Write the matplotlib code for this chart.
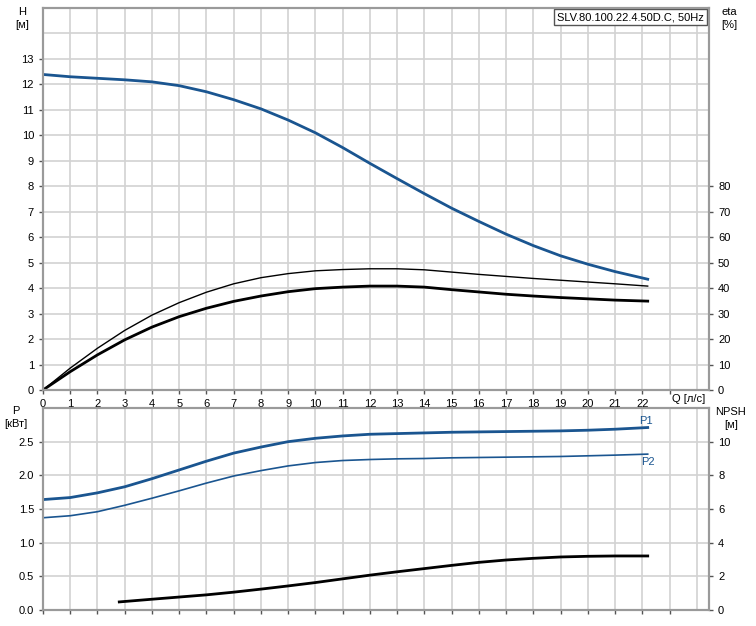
import matplotlib
matplotlib.use("Agg")
import matplotlib.pyplot as plt

plt.rcParams['font.family'] = ['Liberation Sans', 'DejaVu Sans']
plt.rcParams['font.size'] = 8

# ---- data ----
q_h = [0, 1, 2, 3, 4, 5, 6, 7, 8, 9, 10, 11, 12, 13, 14, 15, 16, 17, 18, 19, 20, 21, 22.2]
head = [12.39, 12.30, 12.24, 12.18, 12.10, 11.95, 11.71, 11.40, 11.04, 10.60, 10.10, 9.52,
        8.90, 8.30, 7.71, 7.14, 6.62, 6.12, 5.67, 5.27, 4.94, 4.65, 4.35]

q_eta = [0, 1, 2, 3, 4, 5, 6, 7, 8, 9, 10, 11, 12, 13, 14, 15, 16, 17, 18, 19, 20, 21, 22.2]
eta_pump = [0, 8.6, 16.4, 23.4, 29.4, 34.3, 38.4, 41.7, 44.1, 45.7, 46.8, 47.3, 47.6, 47.6,
            47.2, 46.3, 45.4, 44.6, 43.8, 43.1, 42.4, 41.7, 40.8]
eta_total = [0, 7.2, 13.8, 19.7, 24.7, 28.8, 32.1, 34.8, 36.9, 38.6, 39.8, 40.4, 40.8, 40.8,
             40.4, 39.4, 38.5, 37.6, 36.9, 36.3, 35.8, 35.3, 34.9]

q_p = [0, 1, 2, 3, 4, 5, 6, 7, 8, 9, 10, 11, 12, 13, 14, 15, 16, 17, 18, 19, 20, 21, 22.2]
p1 = [1.64, 1.67, 1.74, 1.83, 1.95, 2.08, 2.21, 2.33, 2.42, 2.50, 2.55, 2.585, 2.61, 2.62,
      2.63, 2.64, 2.645, 2.65, 2.655, 2.66, 2.67, 2.685, 2.71]
p2 = [1.37, 1.40, 1.46, 1.555, 1.66, 1.77, 1.885, 1.99, 2.07, 2.14, 2.19, 2.22, 2.235, 2.245,
      2.25, 2.26, 2.265, 2.27, 2.275, 2.28, 2.29, 2.30, 2.315]

q_npsh = [2.8, 4, 5, 6, 7, 8, 9, 10, 11, 12, 13, 14, 15, 16, 17, 18, 19, 20, 21, 22.2]
npsh = [0.48, 0.64, 0.77, 0.90, 1.06, 1.24, 1.43, 1.63, 1.85, 2.07, 2.27, 2.46, 2.65, 2.83,
        2.97, 3.07, 3.15, 3.19, 3.21, 3.21]

x_ticks = list(range(0, 24))
x_labels = [str(i) for i in range(0, 23)]
h_ticks = list(range(0, 14))
eta_ticks = list(range(0, 90, 10))
p_ticks = [0.0, 0.5, 1.0, 1.5, 2.0, 2.5]
npsh_ticks = [0, 2, 4, 6, 8, 10]
title_text = "SLV.80.100.22.4.50D.C, 50Hz"

# ---- styles ----
BLUE = '#1a5590'
GRID = '#d2d2d2'
SPINE = '#9a9a9a'
XMAX = 24.45

fig = plt.figure(figsize=(7.56, 6.26), dpi=100)
ax1 = fig.add_axes([43/756, 1-390/626, (709-43)/756, (390-8)/626])
ax2 = fig.add_axes([43/756, 1-610/626, (709-43)/756, (610-408)/626])

def style(ax):
    for s in ax.spines.values():
        s.set_color(SPINE)
        s.set_linewidth(1.5)
    ax.tick_params(colors='#555555', labelcolor='black', length=3, width=1)
    ax.tick_params(which='minor', length=0)
    ax.set_axisbelow(True)

# ---- top chart ----
ax1.set_xlim(0, XMAX)
ax1.set_ylim(0, 15)
ax1.set_xticks(x_ticks)
ax1.set_xticklabels(x_labels + [''] * (len(x_ticks) - len(x_labels)))
ax1.set_xticks([24], minor=True)
ax1.set_yticks(h_ticks)
ax1.set_yticklabels([str(v) for v in h_ticks])
ax1.set_yticks([14], minor=True)
ax1.grid(True, which='both', color=GRID, linewidth=1.2)
style(ax1)
ax1.plot(q_h, head, color=BLUE, linewidth=2.0)
ax1.plot(q_eta, [v / 10 for v in eta_pump], color='black', linewidth=1.0)
ax1.plot(q_eta, [v / 10 for v in eta_total], color='black', linewidth=2.0)

ax1e = ax1.twinx()
ax1e.set_ylim(0, 150)
ax1e.set_yticks(eta_ticks)
ax1e.set_yticklabels([str(v) for v in eta_ticks])
style(ax1e)

ax1.text(1 - 5/666, 1 - 4/382, title_text, transform=ax1.transAxes, ha='right', va='top',
         fontsize=8, bbox=dict(boxstyle='square,pad=0.25', facecolor='white',
                               edgecolor='#555555', linewidth=1))

fig.text(22/756, 1-12/626, "H", ha='center', va='center', fontsize=8)
fig.text(22/756, 1-25/626, "[м]", ha='center', va='center', fontsize=8)
fig.text(729/756, 1-12/626, "eta", ha='center', va='center', fontsize=8)
fig.text(729/756, 1-25/626, "[%]", ha='center', va='center', fontsize=8)
fig.text(689/756, 1-399/626, "Q [л/с]", ha='center', va='center', fontsize=8)

# ---- bottom chart ----
ax2.set_xlim(0, XMAX)
ax2.set_ylim(0, 3.0)
ax2.set_xticks(x_ticks)
ax2.set_xticklabels([])
ax2.set_xticks([24], minor=True)
ax2.set_yticks(p_ticks)
ax2.set_yticklabels([f"{v:.1f}" for v in p_ticks])
ax2.grid(True, which='both', color=GRID, linewidth=1.2)
style(ax2)
ax2.plot(q_p, p1, color=BLUE, linewidth=2.0)
ax2.plot(q_p, p2, color=BLUE, linewidth=1.2)
ax2.text(q_p[-1] - 0.3, p1[-1] + 0.03, "P1", color=BLUE, ha='left', va='bottom', fontsize=8)
ax2.text(q_p[-1] - 0.25, p2[-1] - 0.04, "P2", color=BLUE, ha='left', va='top', fontsize=8)

ax2n = ax2.twinx()
ax2n.set_ylim(0, 12)
ax2n.set_yticks(npsh_ticks)
ax2n.set_yticklabels([str(v) for v in npsh_ticks])
style(ax2n)
ax2n.plot(q_npsh, npsh, color='black', linewidth=2.0)

fig.text(16/756, 1-411/626, "P", ha='center', va='center', fontsize=8)
fig.text(16/756, 1-424/626, "[кВт]", ha='center', va='center', fontsize=8)
fig.text(731/756, 1-412/626, "NPSH", ha='center', va='center', fontsize=8)
fig.text(731/756, 1-425/626, "[м]", ha='center', va='center', fontsize=8)

fig.savefig("out.png", dpi=100)
